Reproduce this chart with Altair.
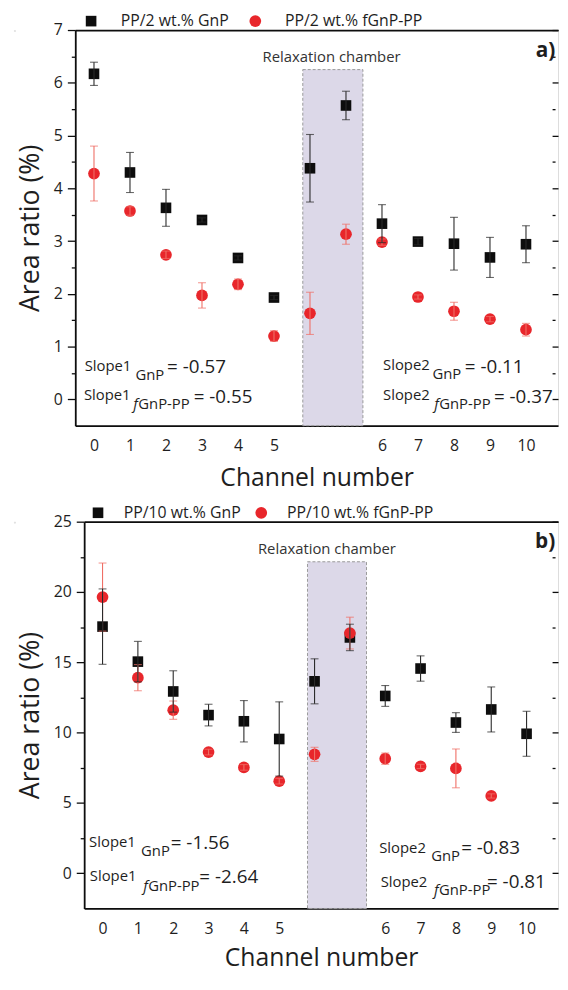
import json
import altair as alt
import pandas as pd

FONT = "Open Sans"
INK = "#1e1e1e"
BLACK = "#0d0d0d"
RED = "#e8262b"
RED_BAR = "#ef6f66"
BAR_BLACK = "#2a2a2a"
CHAMBER_FILL = "#dcd8e8"
CHAMBER_LINE = "#9a9a9a"

# x slots: channels 0-5, two relaxation-chamber points, channels 6-10
slots = list(range(13))
tick_slots = [0, 1, 2, 3, 4, 5, 8, 9, 10, 11, 12]
tick_labels = ["0", "1", "2", "3", "4", "5", "6", "7", "8", "9", "10"]
x_domain = [-0.52, 12.89]

# ---------- panel a ----------
a_names = ["PP/2 wt.% GnP", "PP/2 wt.% fGnP-PP"]
a_gnp = [6.17, 4.30, 3.63, 3.40, 2.68, 1.93, 4.38, 5.57, 3.33, 2.99, 2.95, 2.69, 2.94]
a_gnp_err = [0.22, 0.38, 0.35, 0.04, 0.04, 0.04, 0.64, 0.27, 0.36, 0.06, 0.50, 0.38, 0.35]
a_fgnp = [4.28, 3.57, 2.74, 1.97, 2.18, 1.20, 1.63, 3.13, 2.98, 1.94, 1.67, 1.52, 1.32]
a_fgnp_err = [0.52, 0.08, 0.07, 0.24, 0.10, 0.10, 0.40, 0.19, 0.06, 0.04, 0.17, 0.05, 0.12]
a_ydomain = [-0.5, 7]
a_yticks = [0, 0.5, 1, 1.5, 2, 2.5, 3, 3.5, 4, 4.5, 5, 5.5, 6, 6.5, 7]
a_chamber = {"x0": 5.80, "x1": 7.47, "y0": -0.5, "y1": 6.25}
a_relax = {"x": 6.6, "y": 6.40}
a_tag = {"text": "a)", "x": 12.27, "y": 6.48}
a_ann_text = ["Slope1", "GnP", "= -0.57",
              "Slope1", "f", "GnP-PP", "= -0.55",
              "Slope2", "GnP", "= -0.11",
              "Slope2", "f", "GnP-PP", "= -0.37"]
a_ann_role = ["slope", "sub", "val",
              "slope", "subf", "sub", "val",
              "slope", "sub", "val",
              "slope", "subf", "sub", "val"]
a_ann_x = [-0.26, 1.15, 2.03,
           -0.28, 1.09, 1.23, 2.77,
           8.03, 9.40, 10.30,
           8.03, 9.45, 9.59, 11.11]
a_ann_y = [0.54, 0.37, 0.49,
           -0.02, -0.19, -0.19, -0.07,
           0.56, 0.39, 0.49,
           -0.02, -0.19, -0.19, -0.07]

# ---------- panel b ----------
b_names = ["PP/10 wt.% GnP", "PP/10 wt.% fGnP-PP"]
b_gnp = [17.54, 15.05, 12.93, 11.25, 10.81, 9.55, 13.65, 16.77, 12.61, 14.56, 10.72, 11.65, 9.92]
b_gnp_err = [2.68, 1.44, 1.47, 0.77, 1.47, 2.64, 1.60, 0.94, 0.74, 0.90, 0.70, 1.60, 1.60]
b_fgnp = [19.64, 13.91, 11.60, 8.62, 7.53, 6.55, 8.46, 17.08, 8.15, 7.60, 7.46, 5.50, None]
b_fgnp_err = [2.42, 0.93, 0.65, 0.20, 0.20, 0.20, 0.50, 1.13, 0.40, 0.15, 1.38, 0.15, None]
b_ydomain = [-2.5, 25]
b_yticks = [0, 2.5, 5, 7.5, 10, 12.5, 15, 17.5, 20, 22.5, 25]
b_chamber = {"x0": 5.80, "x1": 7.47, "y0": -2.5, "y1": 22.15}
b_relax = {"x": 6.35, "y": 22.69}
b_tag = {"text": "b)", "x": 12.24, "y": 23.1}
b_ann_text = a_ann_text[:2] + ["= -1.56"] + a_ann_text[3:6] + ["= -2.64"] + \
    a_ann_text[7:9] + ["= -0.83"] + a_ann_text[10:13] + ["= -0.81"]
b_ann_role = a_ann_role
b_ann_x = [-0.38, 1.09, 1.93,
           -0.36, 1.15, 1.29, 2.74,
           7.83, 9.30, 10.15,
           7.87, 9.38, 9.52, 10.88]
b_ann_y = [1.87, 1.24, 1.73,
           -0.58, -1.28, -1.28, -0.72,
           1.45, 0.89, 1.38,
           -0.99, -1.56, -1.56, -1.07]


def panel(names, gnp, gnp_err, fg, fg_err, ydom, yticks, major, width, height,
          chamber, relax, tag, ann_text, ann_role, ann_x, ann_y,
          legend_x, legend_y, label_offset, column_pad, xtitle_pad):
    rows, bars, caps = [], [], []
    for name, vals, errs in ((names[0], gnp, gnp_err), (names[1], fg, fg_err)):
        for s, v, e in zip(slots, vals, errs):
            if v is None:
                continue
            rows.append({"slot": s, "value": v, "series": name})
            bars.append({"slot": s, "lo": v - e, "hi": v + e, "series": name})
            caps.append({"slot": s, "yv": v - e, "series": name})
            caps.append({"slot": s, "yv": v + e, "series": name})
    pts_df = pd.DataFrame(rows)
    bar_df = pd.DataFrame(bars)
    cap_df = pd.DataFrame(caps)

    xs = alt.Scale(domain=x_domain, nice=False, zero=False)
    ys = alt.Scale(domain=ydom, nice=False, zero=False)

    minor_test = f"datum.value % {major} !== 0"
    x_axis = alt.Axis(
        values=tick_slots,
        labelExpr=f"{json.dumps(tick_labels)}[indexof({json.dumps(tick_slots)}, datum.value)]",
        ticks=False, grid=False, labelPadding=12, labelFontSize=16, labelFont=FONT,
        labelColor=INK, domainColor=BLACK, domainWidth=1.8, minExtent=0,
        title="Channel number", titleFont=FONT, titleFontSize=25, titleFontWeight="normal",
        titleColor=INK, titlePadding=xtitle_pad,
    )
    y_axis = alt.Axis(
        values=yticks,
        labelExpr=f"datum.value % {major} === 0 ? format(datum.value, 'd') : ''",
        tickSize={"condition": {"test": minor_test, "value": 4}, "value": 8},
        tickColor=BLACK, tickWidth=1.3, grid=False, labelPadding=5,
        labelFontSize=16, labelFont=FONT, labelColor=INK, minExtent=0,
        domainColor=BLACK, domainWidth=1.8,
        title="Area ratio (%)", titleFont=FONT, titleFontSize=27, titleFontWeight="normal",
        titleColor=INK, titlePadding=9,
    )
    y_right = alt.Axis(
        orient="right", values=yticks, labels=False, title=None, domain=False, grid=False,
        tickSize={"condition": {"test": minor_test, "value": 3}, "value": 6},
        tickColor=BLACK, tickWidth=1.3, offset=-6, minExtent=0, maxExtent=0,
    )
    x_top = alt.Axis(
        orient="top", labels=False, ticks=False, title=None, grid=False,
        domainColor=BLACK, domainWidth=1.8, minExtent=0, maxExtent=0,
    )

    leg = alt.Legend(
        orient="none", legendX=legend_x, legendY=legend_y, direction="horizontal",
        title=None, labelFont=FONT, labelFontSize=16, labelColor=INK,
        symbolSize=130, labelOffset=label_offset, columnPadding=column_pad, padding=0,
        symbolStrokeWidth=0,
    )

    ch_df = pd.DataFrame([chamber])
    frame = alt.Chart(ch_df).mark_rect(
        fill=CHAMBER_FILL, stroke=CHAMBER_LINE, strokeDash=[3, 2], strokeWidth=1
    ).encode(
        x=alt.X("x0:Q", scale=xs, axis=x_top),
        x2="x1:Q",
        y=alt.Y("y0:Q", scale=ys, axis=y_right),
        y2="y1:Q",
    )

    pts = alt.Chart(pts_df).mark_point(filled=True, opacity=1, strokeWidth=0).encode(
        x=alt.X("slot:Q", scale=xs, axis=x_axis),
        y=alt.Y("value:Q", scale=ys, axis=y_axis),
        color=alt.Color("series:N", scale=alt.Scale(domain=names, range=[BLACK, RED]), legend=leg),
        shape=alt.Shape("series:N", scale=alt.Scale(domain=names, range=["square", "circle"]), legend=leg),
        size=alt.Size("series:N", scale=alt.Scale(domain=names, range=[115, 140]), legend=leg),
    )

    def bar_layers(name, color):
        r = alt.Chart(bar_df).transform_filter(alt.datum.series == name).mark_rule(
            color=color, strokeWidth=1.1
        ).encode(
            x=alt.X("slot:Q", scale=xs, axis=None),
            y=alt.Y("lo:Q", scale=ys, axis=None),
            y2="hi:Q",
        )
        c = alt.Chart(cap_df).transform_filter(alt.datum.series == name).mark_tick(
            color=color, orient="horizontal", size=8, thickness=1.1
        ).encode(
            x=alt.X("slot:Q", scale=xs, axis=None),
            y=alt.Y("yv:Q", scale=ys, axis=None),
        )
        return [r, c]

    ann_df = pd.DataFrame({"text": ann_text, "role": ann_role, "x": ann_x, "y": ann_y})

    def ann_layer(role, size, style="normal"):
        return alt.Chart(ann_df).transform_filter(alt.datum.role == role).mark_text(
            align="left", baseline="alphabetic", font=FONT, fontSize=size,
            fontStyle=style, color=INK
        ).encode(
            x=alt.X("x:Q", scale=xs, axis=None),
            y=alt.Y("y:Q", scale=ys, axis=None),
            text="text:N",
        )

    relax_df = pd.DataFrame([{"text": "Relaxation chamber", **relax}])
    relax_t = alt.Chart(relax_df).mark_text(
        align="center", baseline="alphabetic", font=FONT, fontSize=15, color="#333333"
    ).encode(
        x=alt.X("x:Q", scale=xs, axis=None),
        y=alt.Y("y:Q", scale=ys, axis=None),
        text="text:N",
    )
    tag_df = pd.DataFrame([tag])
    tag_t = alt.Chart(tag_df).mark_text(
        align="left", baseline="alphabetic", font=FONT, fontSize=21, fontWeight="bold", color=INK
    ).encode(
        x=alt.X("x:Q", scale=xs, axis=None),
        y=alt.Y("y:Q", scale=ys, axis=None),
        text="text:N",
    )

    layers = [frame, pts] + bar_layers(names[1], RED_BAR) + bar_layers(names[0], BAR_BLACK) + [
        ann_layer("slope", 15), ann_layer("sub", 15), ann_layer("subf", 15, "italic"),
        ann_layer("val", 19), relax_t, tag_t,
    ]
    return alt.layer(*layers).resolve_axis(x="independent", y="independent").properties(
        width=width, height=height
    )


def spacer():
    return alt.Chart(pd.DataFrame({"s": [0]})).mark_point(opacity=0, size=0).encode(
        x=alt.X("s:Q", axis=None), y=alt.Y("s:Q", axis=None)
    ).properties(width=1, height=1)


pa = panel(a_names, a_gnp, a_gnp_err, a_fgnp, a_fgnp_err, a_ydomain, a_yticks, 1,
           488, 400, a_chamber, a_relax, a_tag, a_ann_text, a_ann_role, a_ann_x, a_ann_y,
           8, -17, 22, 18, 12)
pb = panel(b_names, b_gnp, b_gnp_err, b_fgnp, b_fgnp_err, b_ydomain, b_yticks, 5,
           479, 391, b_chamber, b_relax, b_tag, b_ann_text, b_ann_role, b_ann_x, b_ann_y,
           6, -17, 18, 12, 10)

indep = dict(x="independent", y="independent", color="independent",
             shape="independent", size="independent")
row_a = alt.hconcat(spacer(), pa, spacing=0).resolve_scale(**indep)
row_b = alt.hconcat(spacer(), pb, spacing=0).resolve_scale(**indep)

chart = alt.vconcat(row_a, row_b, spacing=13).resolve_scale(**indep).resolve_legend(
    color="independent", shape="independent", size="independent"
).properties(
    padding={"left": 5, "top": -1, "right": 0, "bottom": 0}
).configure_view(stroke=None).configure(font=FONT)

chart.save("out.html", embed_options={"renderer": "svg", "actions": False})
